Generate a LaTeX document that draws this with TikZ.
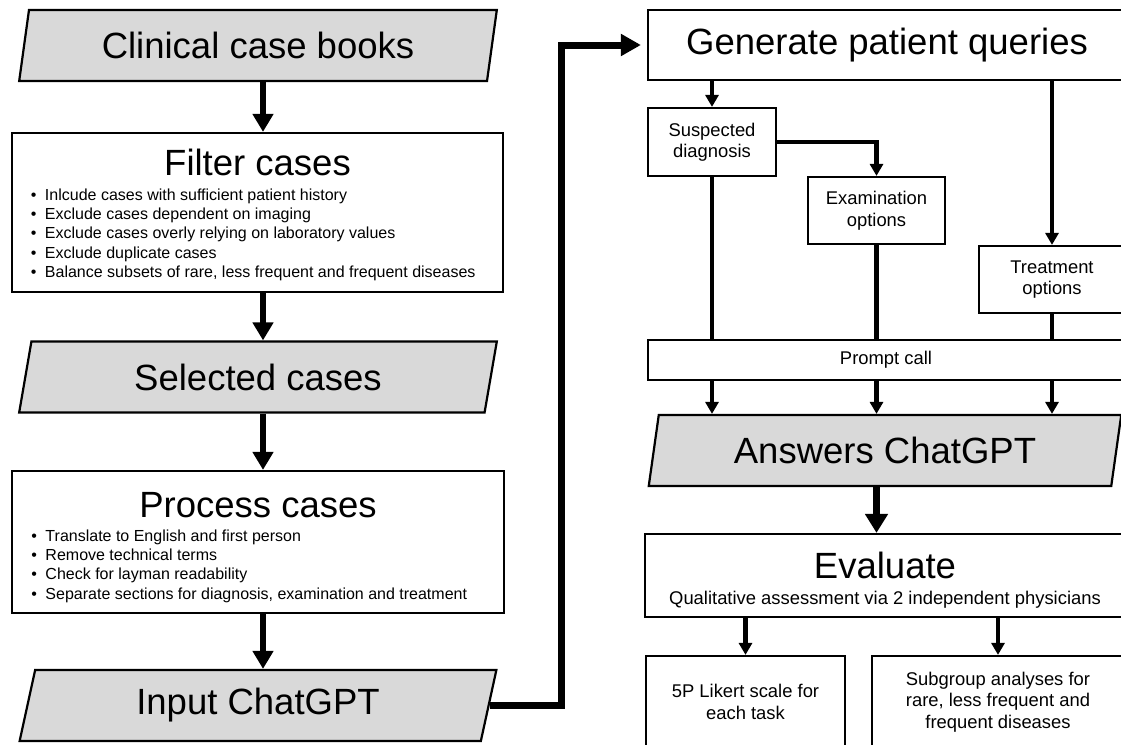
\documentclass[tikz,border=0pt]{standalone}
\usepackage{fontspec}
\setmainfont{Liberation Sans}
\usetikzlibrary{arrows.meta, shapes.geometric}

\newcommand\bigfont{\fontsize{36.5}{40}\selectfont}
\newcommand\midfont{\fontsize{18.4}{21.5}\selectfont}
\newcommand\smallfont{\fontsize{16}{19.3}\selectfont}
\newcommand\bitem{\par\noindent\hspace*{8.5pt}\makebox[14pt][l]{\textbullet}}

\begin{document}
\begin{tikzpicture}[x=1pt,y=-1pt,
	box/.style={draw, line width=2.2pt, fill=white, inner sep=0pt, align=center, font=\midfont},
	iobox/.style={trapezium, trapezium left angle=76, trapezium right angle=104, trapezium stretches=true,
		draw, line width=2.2pt, fill=black!15, inner sep=0pt, minimum width=478pt, minimum height=71pt, font=\bigfont},
	bigarr/.style={line width=6pt, -{Triangle[width=20pt,length=18pt]}},
	smallarr/.style={line width=4.5pt, -{Triangle[width=13pt,length=12pt]}},
	link/.style={line width=4.5pt}]
		\useasboundingbox (0,0) rectangle (1121,744);
		\clip (0,0) rectangle (1121,744);

		\node[iobox] (books) at (258,45.5) {Clinical case books};
		\node[box, minimum width=491pt, minimum height=159pt] (filter) at (257.5,212.5) {\parbox{470pt}{\vspace*{5pt}\centering\bigfont Filter cases\par\vspace{5pt}\raggedright\smallfont
			\bitem Inlcude cases with sufficient patient history
			\bitem Exclude cases dependent on imaging
			\bitem Exclude cases overly relying on laboratory values
			\bitem Exclude duplicate cases
			\bitem Balance subsets of rare, less frequent and frequent diseases}};
		\node[iobox] (selected) at (258,377) {Selected cases};
		\node[box, minimum width=492pt, minimum height=142pt] (process) at (258,542) {\parbox{470pt}{\vspace*{11pt}\centering\bigfont Process cases\par\vspace{4pt}\raggedright\smallfont
			\bitem Translate to English and first person
			\bitem Remove technical terms
			\bitem Check for layman readability
			\bitem Separate sections for diagnosis, examination and treatment}};
		\node[iobox] (input) at (258,705.5) {Input ChatGPT};

		\node[box, minimum width=478pt, minimum height=70pt, font=\bigfont] (gen) at (887,45) {Generate patient queries};
		\node[box, minimum width=128pt, minimum height=68pt] (susp) at (712,142) {Suspected\\diagnosis};
		\node[box, minimum width=137pt, minimum height=67pt] (exam) at (876.5,210.5) {Examination\\options};
		\node[box, minimum width=146pt, minimum height=67pt] (treat) at (1052,279.5) {Treatment\\options};
		\node[box, minimum width=476pt, minimum height=40pt] (prompt) at (886,360) {Prompt call};
		\node[iobox, minimum width=474pt] (ans) at (885,450.5) {Answers ChatGPT};
		\node[box, minimum width=480pt, minimum height=83pt] (eval) at (885,575.5) {\parbox{470pt}{\vspace*{10pt}\centering{\bigfont Evaluate\par}\vspace{4.5pt}Qualitative assessment via 2 independent physicians}};
		\node[box, minimum width=199pt, minimum height=92pt] (likert) at (745.5,702) {5P Likert scale for\\each task};
		\node[box, minimum width=252pt, minimum height=92pt] (subgr) at (998,702) {Subgroup analyses for\\rare, less frequent and\\frequent diseases};

		\coordinate (lx) at (263,0);
		\coordinate (bend) at (561,0);
		\draw[bigarr] (lx |- books.south) -- (lx |- filter.north);
		\draw[bigarr] (lx |- filter.south) -- (lx |- selected.north);
		\draw[bigarr] (lx |- selected.south) -- (lx |- process.north);
		\draw[bigarr] (lx |- process.south) -- (lx |- input.north);
		\draw[line width=7pt, -{Triangle[width=21pt,length=20pt]}, shorten >=6pt] (input.east) -- (input.east -| bend) |- (gen.west);

		\draw[smallarr] (susp |- gen.south) -- (susp.north);
		\draw[smallarr] (treat |- gen.south) -- (treat.north);
		\draw[smallarr] (susp.east) -| (exam.north);
		\draw[link] (susp.south) -- (susp |- prompt.north);
		\draw[link] (exam.south) -- (exam |- prompt.north);
		\draw[link] (treat.south) -- (treat |- prompt.north);
		\foreach \n in {susp, exam, treat}
			\draw[smallarr] (\n |- prompt.south) -- (\n |- ans.north);
		\draw[line width=7pt, -{Triangle[width=22pt,length=19pt]}] (exam |- ans.south) -- (exam |- eval.north);
		\draw[smallarr] (likert |- eval.south) -- (likert.north);
		\draw[smallarr] (subgr |- eval.south) -- (subgr.north);
	\end{tikzpicture}
\end{document}
